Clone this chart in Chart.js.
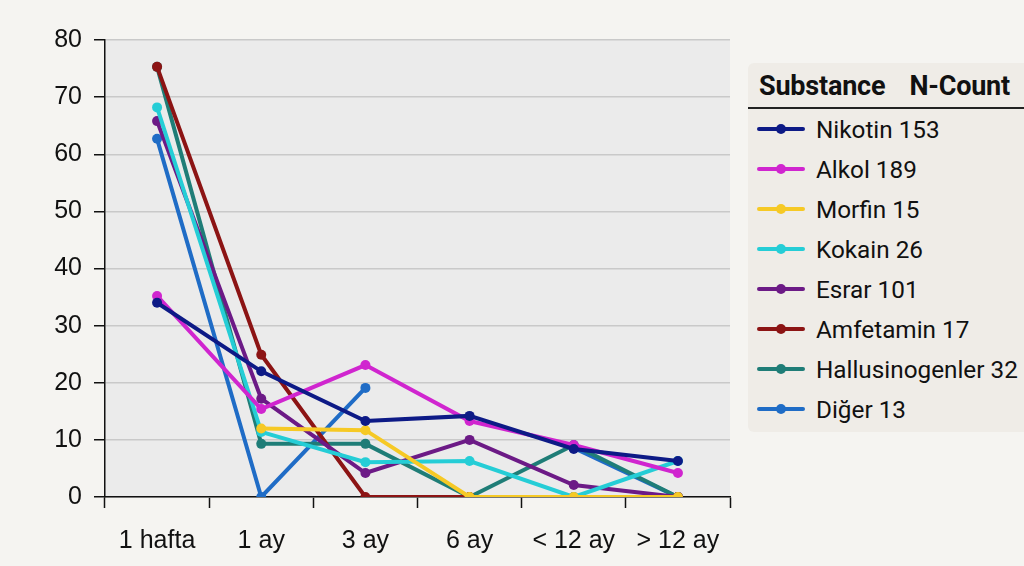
<!DOCTYPE html>
<html>
<head>
<meta charset="utf-8">
<script src="https://cdn.jsdelivr.net/npm/chart.js@4/dist/chart.umd.min.js"></script>
<style>
  html, body { margin: 0; padding: 0; background: #f5f4f1; }
  #wrap { position: relative; width: 1024px; height: 566px; }
  #legend {
    position: absolute; left: 748px; top: 63px; width: 290px; height: 369px;
    background: #efece7; border-radius: 6px; font-family: Roboto, sans-serif; color: #111;
  }
  #legend .head { font-weight: bold; font-size: 27px; padding: 7px 0 0 11px; height: 37px; white-space: nowrap; letter-spacing: -0.2px; }
  #legend .head span + span { margin-left: 24px; }
  #legend .sep { border-top: 2px solid #222; margin: 0; }
  #legend .row { height: 40px; display: flex; align-items: center; font-size: 24.3px; }
  #legend .row:first-of-type { margin-top: 3px; }
  #legend .sw { position: relative; width: 48px; height: 4px; margin: 0 11px 0 9px; border-radius: 2px; }
  #legend .sw i { position: absolute; left: 19px; top: -3px; width: 10px; height: 10px; border-radius: 50%; background: inherit; }
</style>
</head>
<body>
<div id="wrap">
  <canvas id="chart" width="1024" height="566"></canvas>
  <div id="legend"></div>
</div>
<script>
// Categorías y series
const periodos = ['1 hafta', '1 ay', '3 ay', '6 ay', '< 12 ay', '> 12 ay'];
const yTicks = [0, 10, 20, 30, 40, 50, 60, 70, 80];

const nikotin = [34, 22, 13.3, 14.2, 8.4, 6.3];
const alkol = [35.2, 15.4, 23.1, 13.3, 9.1, 4.2];
const morfin = [null, 12, 11.7, 0, 0, 0];
const kokain = [68.2, 11.4, 6.1, 6.3, 0, 6.3];
const esrar = [65.8, 17.2, 4.2, 10, 2.1, 0];
const amfetamin = [75.3, 24.9, 0, 0, 0, 0];
const hallusinogenler = [75.3, 9.3, 9.3, 0, 9.1, 0];
const diger = [62.7, 0, 19.1, null, 8.6, 0];

const sustancias = ['Nikotin 153', 'Alkol 189', 'Morfin 15', 'Kokain 26', 'Esrar 101', 'Amfetamin 17', 'Hallusinogenler 32', 'Diğer 13'];
const colores = ['#0d1a86', '#d025cf', '#f6c925', '#25cdd6', '#6c1a86', '#8c1414', '#1f7d77', '#1f6cc6'];
const series = [nikotin, alkol, morfin, kokain, esrar, amfetamin, hallusinogenler, diger];

// Fondo del área del gráfico
const fondoPlugin = {
  id: 'fondo',
  beforeDraw(chart) {
    const { ctx, chartArea: a } = chart;
    ctx.save();
    ctx.fillStyle = '#ebebeb';
    ctx.fillRect(a.left, a.top, a.right - a.left, a.bottom - a.top);
    ctx.restore();
  }
};

const ctx = document.getElementById('chart').getContext('2d');
new Chart(ctx, {
  type: 'line',
  data: {
    labels: periodos,
    datasets: series.map((d, i) => ({
      label: sustancias[i],
      data: d,
      borderColor: colores[i],
      backgroundColor: colores[i],
      borderWidth: 4,
      pointRadius: 5,
      pointBorderWidth: 0,
      tension: 0,
      spanGaps: false
    }))
  },
  plugins: [fondoPlugin],
  options: {
    responsive: false,
    animation: false,
    layout: { padding: { left: 0, right: 294, top: 40, bottom: 0 } },
    plugins: { legend: { display: false }, tooltip: { enabled: false } },
    scales: {
      x: {
        offset: true,
        grid: { offset: true, drawOnChartArea: false, drawTicks: true, tickLength: 11, tickColor: '#111', tickWidth: 1.5 },
        border: { color: '#111', width: 1.5 },
        ticks: { color: '#111', font: { family: 'Liberation Sans, Arial', size: 25 }, padding: 18, maxRotation: 0 },
        afterFit(scale) { scale.height = 69; }
      },
      y: {
        min: 0, max: 80,
        afterBuildTicks(scale) { scale.ticks = yTicks.map(v => ({ value: v })); },
        grid: { color: '#c9c9c9', lineWidth: 1.5, tickColor: '#111', tickLength: 11 },
        border: { color: '#111', width: 1.5 },
        ticks: { color: '#111', font: { family: 'Liberation Sans, Arial', size: 25 }, padding: 12 },
        afterFit(scale) { scale.width = 105; }
      }
    }
  }
});

// Leyenda HTML
const legend = document.getElementById('legend');
let html = '<div class="head"><span>Substance</span><span>N-Count</span></div><div class="sep"></div>';
sustancias.forEach((s, i) => {
  html += `<div class="row"><span class="sw" style="background:${colores[i]}"><i></i></span>${s}</div>`;
});
legend.innerHTML = html;
</script>
</body>
</html>
